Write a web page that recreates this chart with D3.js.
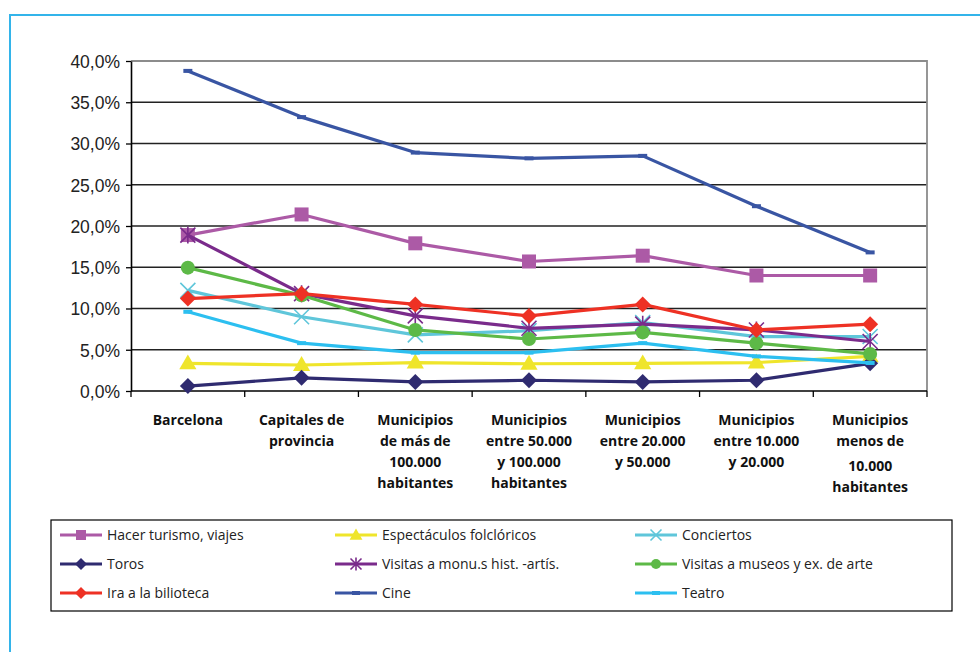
<!DOCTYPE html>
<html>
<head>
<meta charset="utf-8">
<script src="https://cdn.jsdelivr.net/npm/d3@7"></script>
<style>
  html, body { margin: 0; padding: 0; background: #fff; }
  svg { display: block; font-family: "Open Sans", "Noto Sans", sans-serif; }
</style>
</head>
<body>
<div id="chart"></div>
<script>
// categories (x axis), each label split in lines
var categories = [
    ["Barcelona"],
    ["Capitales de", "provincia"],
    ["Municipios", "de más de", "100.000", "habitantes"],
    ["Municipios", "entre 50.000", "y 100.000", "habitantes"],
    ["Municipios", "entre 20.000", "y 50.000"],
    ["Municipios", "entre 10.000", "y 20.000"],
    ["Municipios", "menos de", "10.000", "habitantes"]
];

var yTicks = [0, 5, 10, 15, 20, 25, 30, 35, 40];

var seriesNames = [
    "Hacer turismo, viajes", "Espectáculos folclóricos", "Conciertos",
    "Toros", "Visitas a monu.s hist. -artís.", "Visitas a museos y ex. de arte",
    "Ira a la bilioteca", "Cine", "Teatro"
];

var turismo      = [18.9, 21.4, 17.9, 15.7, 16.4, 14.0, 14.0];
var folcloricos  = [3.35, 3.15, 3.45, 3.3, 3.35, 3.45, 4.2];
var conciertos   = [12.2, 9.0, 6.8, 7.3, 8.3, 6.6, 6.6];
var toros        = [0.6, 1.6, 1.1, 1.3, 1.1, 1.3, 3.35];
var monumentos   = [18.9, 11.8, 9.1, 7.6, 8.1, 7.4, 6.0];
var museos       = [14.95, 11.6, 7.4, 6.3, 7.1, 5.8, 4.5];
var biblioteca   = [11.2, 11.8, 10.5, 9.1, 10.5, 7.4, 8.1];
var cine         = [38.8, 33.2, 28.9, 28.2, 28.5, 22.4, 16.8];
var teatro       = [9.6, 5.8, 4.65, 4.65, 5.8, 4.2, 3.4];

var seriesValues = [turismo, folcloricos, conciertos, toros, monumentos, museos, biblioteca, cine, teatro];
var seriesColors = ["#ac5aa6", "#efe52b", "#5fc6da", "#2f2b70", "#7a2b8b", "#5db947", "#ee3124", "#3955a3", "#2cbff0"];
var seriesMarkers = ["square", "triangle", "x", "diamond", "star", "circle", "diamond", "dash", "dash"];

var W = 980, H = 652;
var margin = {top: 61, left: 131, right: 53, bottom: 261};
var pw = W - margin.left - margin.right;   // 796
var ph = H - margin.top - margin.bottom;   // 330

var svg = d3.select("#chart").append("svg")
    .attr("width", W)
    .attr("height", H);

// outer light blue frame
svg.append("rect")
    .attr("x", 10).attr("y", 15)
    .attr("width", 1000).attr("height", 700)
    .attr("fill", "none")
    .attr("stroke", "#33b4ea")
    .attr("stroke-width", 2);

var x = d3.scaleBand()
    .domain(d3.range(categories.length))
    .range([margin.left, margin.left + pw]);

var y = d3.scaleLinear()
    .domain([0, 40])
    .range([margin.top + ph, margin.top]);

// gridlines
svg.append("g")
    .selectAll("line")
    .data(yTicks.filter(d => d > 0 && d < 40))
    .enter().append("line")
    .attr("x1", margin.left).attr("x2", margin.left + pw)
    .attr("y1", d => y(d)).attr("y2", d => y(d))
    .attr("stroke", "#222")
    .attr("stroke-width", 1.3);

// top and right border (grey)
svg.append("path")
    .attr("d", "M" + margin.left + "," + y(40) + "H" + (margin.left + pw) + "V" + y(0))
    .attr("fill", "none")
    .attr("stroke", "#8c8c8c")
    .attr("stroke-width", 1.8);

// y axis
var yAxis = svg.append("g")
    .attr("transform", "translate(" + margin.left + ",0)")
    .call(d3.axisLeft(y).tickValues(yTicks).tickSize(5).tickSizeOuter(0)
        .tickFormat(d => d3.format(".1f")(d).replace(".", ",") + "%"));
yAxis.select(".domain").attr("stroke", "#000").attr("stroke-width", 1.6);
yAxis.selectAll(".tick line").attr("stroke", "#000").attr("stroke-width", 1.3);
yAxis.selectAll(".tick text")
    .attr("x", -11)
    .attr("dy", "0.36em")
    .attr("fill", "#222")
    .style("font-size", "17.5px");

// x axis: line plus ticks at category boundaries
var xg = svg.append("g");
xg.append("line")
    .attr("x1", margin.left).attr("x2", margin.left + pw)
    .attr("y1", y(0)).attr("y2", y(0))
    .attr("stroke", "#000").attr("stroke-width", 1.6);
var bounds = x.domain().map(d => x(d)).concat([x.range()[1]]);
xg.selectAll(".xt")
    .data(bounds)
    .enter().append("line")
    .attr("x1", d => d).attr("x2", d => d)
    .attr("y1", y(0)).attr("y2", y(0) + 6)
    .attr("stroke", "#000").attr("stroke-width", 1.3);

var labels = xg.selectAll(".xl")
    .data(categories)
    .enter().append("text")
    .attr("text-anchor", "middle")
    .attr("fill", "#111")
    .style("font-size", "14px")
    .style("font-weight", "bold");
labels.each(function(lines, i) {
    var t = d3.select(this);
    lines.forEach(function(s, k) {
        var extra = (i === 6 && k >= 2) ? 4 : 0;
        t.append("tspan")
            .attr("x", x(i) + x.bandwidth() / 2)
            .attr("y", y(0) + 34 + k * 21 + extra)
            .text(s);
    });
});

// marker drawing
function drawMarker(g, type, color, s) {
    if (type === "square") {
        g.append("rect").attr("x", -s / 2).attr("y", -s / 2).attr("width", s).attr("height", s).attr("fill", color);
    } else if (type === "diamond") {
        var a = s / Math.SQRT2;
        g.append("rect").attr("x", -a / 2).attr("y", -a / 2).attr("width", a).attr("height", a)
            .attr("transform", "rotate(45)").attr("fill", color);
    } else if (type === "triangle") {
        g.append("path").attr("d", d3.symbol(d3.symbolTriangle, s * s * 0.5)()).attr("fill", color)
            .attr("transform", "translate(0,1)");
    } else if (type === "circle") {
        g.append("circle").attr("r", s / 2).attr("fill", color);
    } else if (type === "x") {
        var h = s / 2;
        g.append("path").attr("d", "M" + (-h) + "," + (-h) + "L" + h + "," + h + "M" + (-h) + "," + h + "L" + h + "," + (-h))
            .attr("stroke", color).attr("stroke-width", 1.6);
    } else if (type === "star") {
        var h2 = s / 2;
        g.append("path").attr("d", "M" + (-h2) + "," + (-h2) + "L" + h2 + "," + h2 + "M" + (-h2) + "," + h2 + "L" + h2 + "," + (-h2) + "M0," + (-h2 - 1) + "V" + (h2 + 1))
            .attr("stroke", color).attr("stroke-width", 1.6);
    } else if (type === "dash") {
        g.append("rect").attr("x", -s / 2).attr("y", -2).attr("width", s).attr("height", 4).attr("fill", color);
    }
}

var markerSize = {square: 14, triangle: 16, x: 15, diamond: 16, star: 15, circle: 14, dash: 9};

var line = d3.line()
    .x((d, i) => x(i) + x.bandwidth() / 2)
    .y(d => y(d));

seriesValues.forEach(function(vals, si) {
    var g = svg.append("g");
    g.append("path")
        .datum(vals)
        .attr("d", line)
        .attr("fill", "none")
        .attr("stroke", seriesColors[si])
        .attr("stroke-width", 3.2)
        .attr("stroke-linejoin", "round");
    g.selectAll(".m")
        .data(vals)
        .enter().append("g")
        .attr("transform", (d, i) => "translate(" + (x(i) + x.bandwidth() / 2) + "," + y(d) + ")")
        .each(function() {
            drawMarker(d3.select(this), seriesMarkers[si], seriesColors[si], markerSize[seriesMarkers[si]]);
        });
});

// legend
var legend = svg.append("g");
legend.append("rect")
    .attr("x", 51).attr("y", 520)
    .attr("width", 901).attr("height", 91)
    .attr("fill", "#fff")
    .attr("stroke", "#000")
    .attr("stroke-width", 1.2);

var colX = [60, 335, 635];
var rowY = [535, 564, 593];

seriesNames.forEach(function(name, i) {
    var cx = colX[i % 3], cy = rowY[Math.floor(i / 3)];
    var item = legend.append("g").attr("transform", "translate(" + cx + "," + cy + ")");
    item.append("line")
        .attr("x1", 0).attr("x2", 42)
        .attr("stroke", seriesColors[i])
        .attr("stroke-width", 3.2);
    var m = item.append("g").attr("transform", "translate(21,0)");
    var t = seriesMarkers[i];
    drawMarker(m, t, seriesColors[i], t === "dash" ? 8 : Math.round(markerSize[t] * 0.72));
    item.append("text")
        .attr("x", 47)
        .attr("dy", "0.35em")
        .attr("fill", "#222")
        .style("font-size", "14px")
        .text(name);
});
</script>
</body>
</html>
